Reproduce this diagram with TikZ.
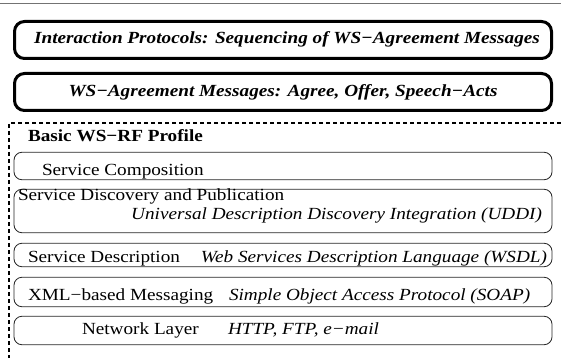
\documentclass[tikz,border=0pt]{standalone}
\usepackage{fontspec}
\setmainfont{Liberation Serif}[FakeStretch=1.13]
\begin{document}
\begin{tikzpicture}[x=1pt,y=-1pt,
  font=\fontsize{17}{20}\selectfont,
  thickbox/.style={draw=black,line width=3pt,rounded corners=10pt,minimum width=537pt,minimum height=37pt,inner sep=0pt,outer sep=0pt},
  layerbox/.style={draw=black!85,line width=0.8pt,rounded corners=8pt,minimum width=538pt,inner sep=0pt,outer sep=0pt},
  txt/.style={inner sep=0pt,outer sep=0pt},
  it/.style={txt,font=\fontsize{17}{20}\selectfont\itshape},
  bit/.style={txt,font=\fontsize{17}{20}\selectfont\bfseries\itshape},
  profile/.style={draw=black,line width=1.2pt,dash pattern=on 4pt off 3pt}]
\useasboundingbox (0,0) rectangle (561,358);
% top rule
\coordinate (rl) at (0,4);
\coordinate (rr) at (561,4);
\draw[black!55,line width=1pt] (rl) -- (rr);
% thick boxes
\node[thickbox] (ip) at (283,40) {};
\node[bit,anchor=base] (ipt) at (287,43.5) {Interaction Protocols: Sequencing of WS−Agreement Messages};
\node[thickbox] (am) at (283,92) {};
\node[bit,anchor=base] (amt) at (283,96.5) {WS−Agreement Messages: Agree, Offer, Speech−Acts};
% dashed profile frame
\coordinate (pr) at (561,123);
\coordinate (pc) at (9,123);
\coordinate (pb) at (9,358);
\draw[profile] (pr) -- (pc) -- (pb);
\node[txt,font=\fontsize{17}{20}\selectfont\bfseries,anchor=base west] (prof) at (28,142) {Basic WS−RF Profile};
% layers
\node[layerbox,minimum height=27.5pt] (sc) at (283,166) {};
\node[txt,anchor=base west] (sct) at (42,175) {Service Composition};
\node[layerbox,minimum height=43.5pt] (sd) at (283,211) {};
\node[txt,anchor=base west] (sdt) at (18,200) {Service Discovery and Publication};
\node[it,anchor=base east] (sdi) at (542,219) {Universal Description Discovery Integration (UDDI)};
\node[layerbox,minimum height=23.5pt] (sdesc) at (283,255) {};
\node[txt,anchor=base west] (sdesct) at (28,262.5) {Service Description};
\node[it,anchor=base east] (sdesci) at (547,262.5) {Web Services Description Language (WSDL)};
\node[layerbox,minimum height=29.5pt] (xml) at (283,292) {};
\node[txt,anchor=base west] (xmlt) at (28,300.5) {XML−based Messaging};
\node[it,anchor=base west] (xmli) at (229,300.5) {Simple Object Access Protocol (SOAP)};
\node[layerbox,minimum height=28.5pt] (net) at (283,330.5) {};
\node[txt,anchor=base west] (nett) at (82,334) {Network Layer};
\node[it,anchor=base west] (neti) at (228,334) {HTTP, FTP, e−mail};
\end{tikzpicture}
\end{document}
